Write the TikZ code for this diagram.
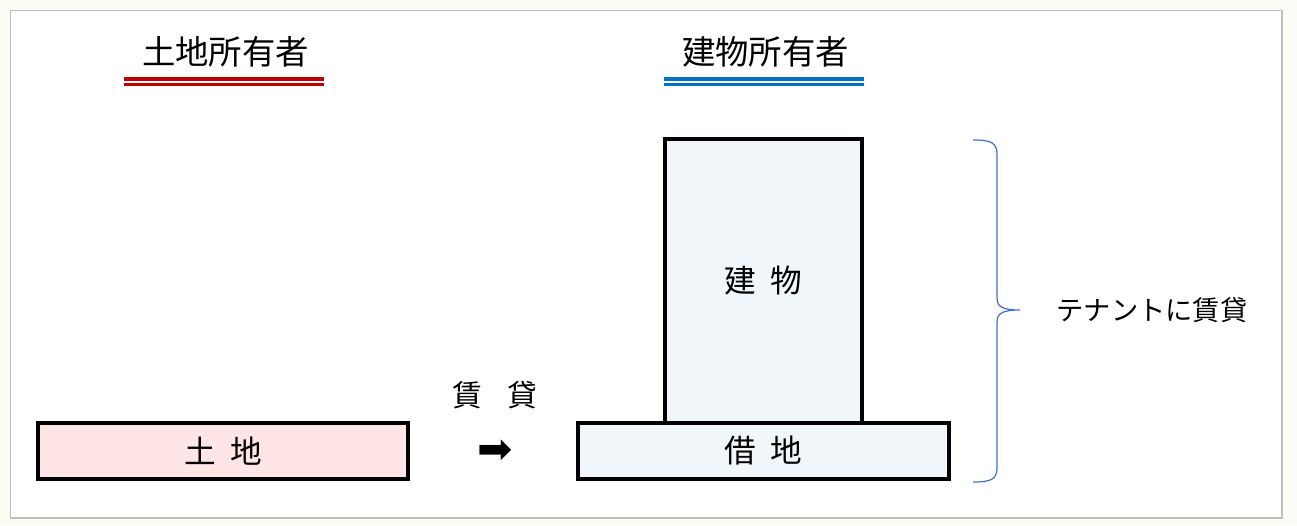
\documentclass[tikz,border=0pt]{standalone}
\usepackage{fontspec}
\setmainfont{Noto Sans CJK JP}
\newfontfamily\arrowfont{DejaVu Sans}
\definecolor{ownerred}{HTML}{C00000}
\definecolor{ownerblue}{HTML}{0070C0}
\definecolor{bracecol}{HTML}{4472C4}
\definecolor{landpink}{HTML}{FFE5E5}
\definecolor{bldgfill}{HTML}{F1F6FA}
\definecolor{pagebg}{HTML}{FCFBF4}
\definecolor{framegray}{HTML}{BFBFBF}

\begin{document}
\begin{tikzpicture}[x=0.02cm,y=-0.02cm,
  title/.style={font=\fontsize{19}{19}\selectfont},
  block/.style={draw=black,line width=2.2pt,inner sep=0pt,
                font=\fontsize{18}{18}\selectfont},
  ownerline/.style={line width=2pt}]
  % page and frame
  \fill[pagebg] (0,0) rectangle (1297,525);
  \draw[framegray,fill=white,line width=0.6pt] (10.5,10.5) rectangle (1282,518);
  \useasboundingbox (0,0) rectangle (1297,525);

  % owners
  \node[title] (landowner) at (225.5,52) {土地所有者};
  \node[title] (bldgowner) at (765.5,52) {建物所有者};
  \coordinate (r1) at (124,79);   \coordinate (r2) at (324,79);
  \coordinate (r3) at (124,84.5); \coordinate (r4) at (324,84.5);
  \draw[ownerred,ownerline] (r1) -- (r2);
  \draw[ownerred,ownerline] (r3) -- (r4);
  \coordinate (b1) at (664,79);   \coordinate (b2) at (864,79);
  \coordinate (b3) at (664,84.5); \coordinate (b4) at (864,84.5);
  \draw[ownerblue,ownerline] (b1) -- (b2);
  \draw[ownerblue,ownerline] (b3) -- (b4);

  % land and building
  \node[block,fill=landpink,minimum width=7.4cm,minimum height=1.12cm]
    (land) at (223,451) {土\hspace{0.45em}地};
  \node[block,fill=bldgfill,minimum width=3.94cm,minimum height=5.68cm]
    (bldg) at (763.5,281) {建\hspace{0.45em}物};
  \node[block,fill=bldgfill,minimum width=7.42cm,minimum height=1.12cm]
    (lease) at (763.5,451) {借\hspace{0.45em}地};

  % lease arrow
  \node[font=\fontsize{17}{17}\selectfont] (rent) at (495,395) {賃\hspace{0.85em}貸};
  \node[font=\arrowfont\fontsize{24}{24}\selectfont] (arrow) at (495,452) {➡};

  % tenants
  \draw[bracecol,line width=0.7pt]
    (973,140) .. controls (992,140) and (997,143) .. (997,155) -- (997,298)
    .. controls (997,307) and (1003,310) .. (1020,310)
    .. controls (1003,310) and (997,313) .. (997,322) -- (997,467)
    .. controls (997,479) and (992,482) .. (973,482);
  \node[font=\fontsize{15.5}{15.5}\selectfont] (tenant) at (1152,310) {テナントに賃貸};
\end{tikzpicture}
\end{document}
